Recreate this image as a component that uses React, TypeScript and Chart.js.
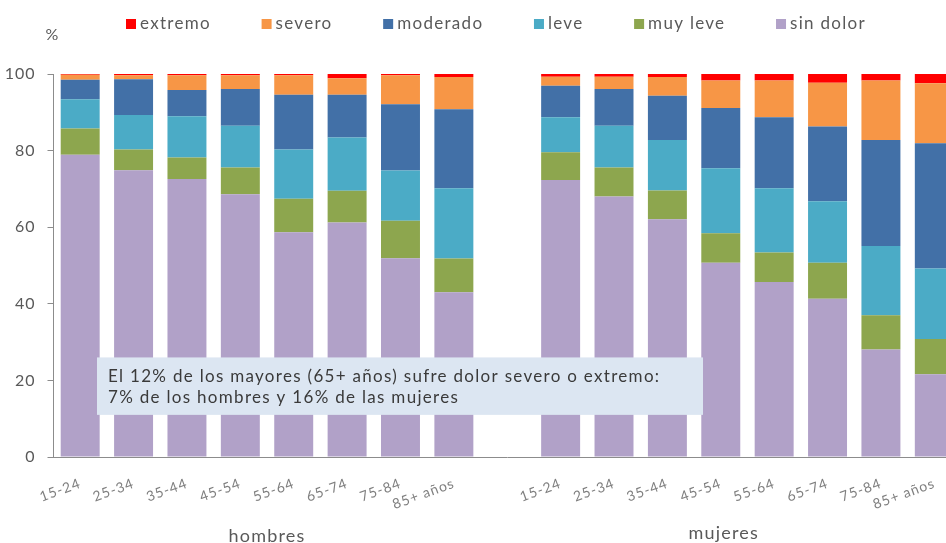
import React, { useEffect, useRef } from "react";
import { Chart, registerables } from "chart.js";

Chart.register(...registerables);

const categories = [
  "15-24", "25-34", "35-44", "45-54", "55-64", "65-74", "75-84", "85+ años",
  "",
  "15-24", "25-34", "35-44", "45-54", "55-64", "65-74", "75-84", "85+ años",
];
const groupLabels = ["hombres", "mujeres"];
const yTicks = [0, 20, 40, 60, 80, 100];
const annotationLines = [
  "El 12% de los mayores (65+ años) sufre dolor severo o extremo:",
  "7% de los hombres y 16% de las mujeres",
];

const sinDolor = [78.9, 74.9, 72.6, 68.6, 58.7, 61.2, 51.9, 43.0, null, 72.3, 68.0, 62.1, 50.7, 45.7, 41.3, 28.1, 21.6];
const muyLeve = [6.9, 5.4, 5.6, 7.0, 8.7, 8.3, 9.8, 8.8, null, 7.3, 7.6, 7.5, 7.7, 7.7, 9.4, 8.9, 9.2];
const leve = [7.6, 9.0, 10.8, 10.9, 12.9, 13.9, 13.1, 18.4, null, 9.1, 10.9, 13.2, 17.0, 16.8, 16.1, 18.1, 18.4];
const moderado = [5.1, 9.3, 6.8, 9.6, 14.3, 11.2, 17.3, 20.6, null, 8.2, 9.6, 11.5, 15.7, 18.5, 19.5, 27.7, 32.7];
const severo = [1.3, 1.1, 3.9, 3.6, 5.1, 4.3, 7.6, 8.4, null, 2.4, 3.2, 4.9, 7.2, 9.6, 11.4, 15.5, 15.7];
const extremo = [0.2, 0.3, 0.3, 0.3, 0.3, 1.1, 0.3, 0.8, null, 0.7, 0.7, 0.8, 1.7, 1.7, 2.3, 1.7, 2.4];

const FONT = "Lato, 'DejaVu Sans', sans-serif";
const GRAY = "#595959";

export default function App() {
  const ref = useRef<HTMLCanvasElement | null>(null);

  useEffect(() => {
    if (!ref.current) return;
    const series = [
      { label: "sin dolor", data: sinDolor, color: "#b1a1c8" },
      { label: "muy leve", data: muyLeve, color: "#8da64e" },
      { label: "leve", data: leve, color: "#4babc6" },
      { label: "moderado", data: moderado, color: "#4270a7" },
      { label: "severo", data: severo, color: "#f79646" },
      { label: "extremo", data: extremo, color: "#ff0000" },
    ];

    const decorPlugin = {
      id: "decor",
      beforeLayout(chart: any) {
        (chart.ctx as any).letterSpacing = "1px";
      },
      beforeDraw(chart: any) {
        (chart.ctx as any).letterSpacing = "1px";
      },
      afterDraw(chart: any) {
        const ctx = chart.ctx as any;
        const area = chart.chartArea;
        const xs = chart.scales.x;
        const ys = chart.scales.y;
        ctx.save();

        // "%" axis title
        ctx.letterSpacing = "0px";
        ctx.fillStyle = GRAY;
        ctx.font = `16px ${FONT}`;
        ctx.textAlign = "center";
        ctx.textBaseline = "middle";
        ctx.fillText("%", 52, 35);

        // custom legend (reverse order)
        const items = series.slice().reverse();
        ctx.font = `17px ${FONT}`;
        ctx.letterSpacing = "1.3px";
        const box = 10;
        const gapBoxText = 4;
        const widths = items.map((s) => box + gapBoxText + ctx.measureText(s.label).width);
        const totalTarget = 740;
        const sum = widths.reduce((a: number, b: number) => a + b, 0);
        const gap = (totalTarget - sum) / (items.length - 1);
        let cx = 126;
        const ly = 24;
        items.forEach((s, i) => {
          ctx.fillStyle = s.color;
          ctx.fillRect(cx, ly - box / 2, box, box);
          ctx.fillStyle = GRAY;
          ctx.textAlign = "left";
          ctx.textBaseline = "middle";
          ctx.fillText(s.label, cx + box + gapBoxText, ly);
          cx += widths[i] + gap;
        });

        // annotation box
        const top = ys.getPixelForValue(26);
        const bottom = ys.getPixelForValue(11);
        const left = area.left + 43.5;
        const right = 703;
        ctx.fillStyle = "#dce6f2";
        ctx.fillRect(left, top, right - left, bottom - top);
        ctx.fillStyle = "#3a3a3a";
        ctx.font = `17px ${FONT}`;
        ctx.letterSpacing = "1.3px";
        ctx.textAlign = "left";
        ctx.textBaseline = "middle";
        ctx.fillText(annotationLines[0], left + 11, top + 19);
        ctx.fillText(annotationLines[1], left + 11, top + 40);

        // group labels
        ctx.fillStyle = GRAY;
        ctx.font = `18px ${FONT}`;
        ctx.letterSpacing = "1.2px";
        ctx.textAlign = "center";
        const hx = (xs.getPixelForValue(0) + xs.getPixelForValue(7)) / 2;
        const mx = xs.getPixelForValue(12) + 3;
        ctx.fillText(groupLabels[0], hx, 536);
        ctx.fillText(groupLabels[1], mx, 533);
        ctx.restore();
      },
    };

    const chart = new Chart(ref.current, {
      type: "bar",
      data: {
        labels: categories,
        datasets: series.map((s) => ({
          label: s.label,
          data: s.data as any,
          backgroundColor: s.color,
          borderWidth: 0,
          barPercentage: 1,
          categoryPercentage: 0.73,
        })),
      },
      options: {
        responsive: false,
        animation: false,
        layout: { padding: { top: 74, right: 0, bottom: 0, left: 0 } },
        plugins: {
          legend: { display: false },
          tooltip: { enabled: false },
        },
        scales: {
          x: {
            stacked: true,
            grid: { display: false, drawTicks: false },
            border: { display: true, color: "#8c8c8c", width: 1 },
            ticks: {
              color: "#7f7f7f",
              font: { family: FONT, size: 14 },
              minRotation: 20,
              maxRotation: 20,
              autoSkip: false,
              padding: 18,
            },
            afterFit: (s: any) => {
              s.height = 86;
              s.paddingLeft = 0;
              s.paddingRight = 0;
            },
          },
          y: {
            stacked: true,
            min: 0,
            max: 100,
            afterBuildTicks: (s: any) => {
              s.ticks = yTicks.map((v) => ({ value: v }));
            },
            grid: {
              display: true,
              drawOnChartArea: false,
              drawTicks: true,
              tickLength: 6,
              color: "#8c8c8c",
            },
            border: { display: true, color: "#8c8c8c", width: 1 },
            ticks: {
              color: GRAY,
              font: { family: FONT, size: 16 },
              padding: 12,
            },
            afterFit: (s: any) => {
              s.width = 53.5;
            },
          },
        },
      },
      plugins: [decorPlugin],
    });
    return () => chart.destroy();
  }, []);

  return (
    <div
      style={{
        position: "fixed",
        left: 0,
        top: 0,
        width: 946,
        height: 543,
        overflow: "hidden",
        background: "#ffffff",
      }}
    >
      <canvas ref={ref} width={961} height={543} style={{ display: "block" }} />
    </div>
  );
}
